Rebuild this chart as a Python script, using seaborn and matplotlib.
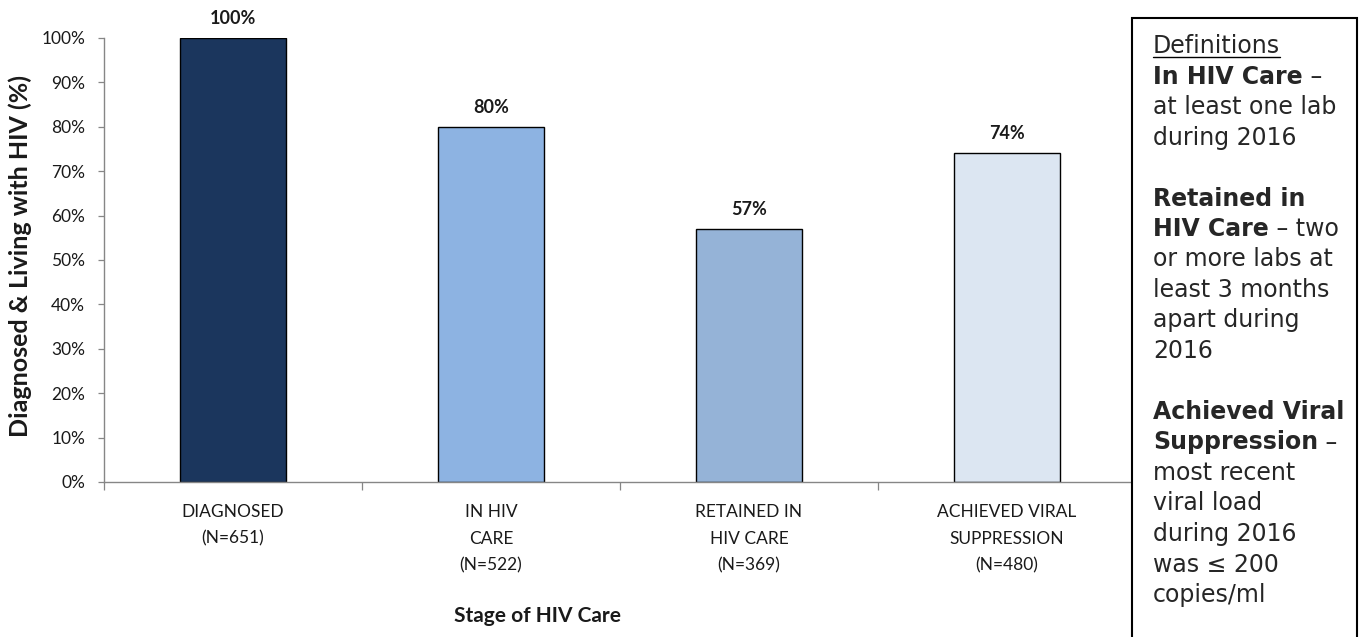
import matplotlib
matplotlib.use("Agg")
import matplotlib.pyplot as plt
import seaborn as sns
import pandas as pd
from matplotlib.patches import Rectangle
from matplotlib.lines import Line2D
from matplotlib.ticker import FuncFormatter

# ---- data -------------------------------------------------------------
stages = ["DIAGNOSED", "IN HIV CARE", "RETAINED IN HIV CARE", "ACHIEVED VIRAL SUPPRESSION"]
stage_label_lines = [["DIAGNOSED"], ["IN HIV", "CARE"], ["RETAINED IN", "HIV CARE"],
                     ["ACHIEVED VIRAL", "SUPPRESSION"]]
n_people = [651, 522, 369, 480]
pct_values = [100, 80, 57, 74]
y_ticks = list(range(0, 101, 10))

bar_colors = ["#1B365D", "#8DB3E2", "#95B3D7", "#DCE6F2"]

# definitions panel: (bold part, regular part) per line, None = blank line
definition_lines = [
    ("", "Definitions"),
    ("In HIV Care", " \u2013"),
    ("", "at least one lab"),
    ("", "during 2016"),
    None,
    ("Retained in", ""),
    ("HIV Care", " \u2013 two"),
    ("", "or more labs at"),
    ("", "least 3 months"),
    ("", "apart during"),
    ("", "2016"),
    None,
    ("Achieved Viral", ""),
    ("Suppression", " \u2013"),
    ("", "most recent"),
    ("", "viral load"),
    ("", "during 2016"),
    ("", "was \u2264 200"),
    ("", "copies/ml"),
]

# ---- style ------------------------------------------------------------
sns.set_style("ticks")
plt.rcParams["font.family"] = ["Lato", "DejaVu Sans"]

W, H = 1360, 637
fig = plt.figure(figsize=(W / 100, H / 100), dpi=100)
ax = fig.add_axes([104 / W, 1 - 482 / H, (1136 - 104) / W, (482 - 38) / H])

df = pd.DataFrame({"stage": stages, "pct": pct_values})
sns.barplot(data=df, x="stage", y="pct", hue="stage", palette=bar_colors,
            legend=False, width=0.41, edgecolor="black", linewidth=1.0,
            saturation=1, ax=ax)

ax.set_xlim(-0.5, 3.5)
ax.set_ylim(0, 100)

# value labels above bars
for cont in ax.containers:
    ax.bar_label(cont, fmt="%d%%", padding=8, fontsize=13, fontweight="bold",
                 color="#1a1a1a")

# axes styling
grey = "#868686"
for side in ("top", "right"):
    ax.spines[side].set_visible(False)
for side in ("left", "bottom"):
    ax.spines[side].set_color(grey)
    ax.spines[side].set_linewidth(1.0)

ax.set_yticks(y_ticks)
ax.yaxis.set_major_formatter(FuncFormatter(lambda v, p: f"{v:.0f}%"))
ax.tick_params(axis="y", length=4.5, width=0.9, color=grey, pad=9,
               labelsize=12.5, labelcolor="#1a1a1a")

xt_labels = ["\n".join(lines + [f"(N={n})"]) for lines, n in zip(stage_label_lines, n_people)]
ax.set_xticks(range(len(stages)))
ax.set_xticklabels(xt_labels, fontsize=12.5, linespacing=1.8, color="#1a1a1a")
ax.tick_params(axis="x", which="major", length=0, pad=16)
ax.set_xticks([i - 0.5 for i in range(len(stages) + 1)], minor=True)
ax.tick_params(axis="x", which="minor", length=5.5, width=0.9, color=grey)

ax.set_xlabel("Stage of HIV Care", fontsize=15, fontweight="bold", va="center",
              color="#1a1a1a")
ax.xaxis.set_label_coords((538 - 104) / (1136 - 104), (482 - 616) / (482 - 38))
ax.set_ylabel("Diagnosed & Living with HIV (%)", fontsize=18, fontweight="bold",
              va="center", color="#1a1a1a")
ax.yaxis.set_label_coords((20 - 104) / (1136 - 104), (482 - 256) / (482 - 38))

# ---- definitions panel ------------------------------------------------
box = Rectangle((1132 / W, -0.05), (1357 - 1132) / W, 1.05 - 18 / H,
                transform=fig.transFigure, facecolor="white", edgecolor="black",
                linewidth=1.5, zorder=10, clip_on=False)
fig.patches.append(box)

fig.canvas.draw()
renderer = fig.canvas.get_renderer()

x0 = 1153
base0 = 53
step = 30.5
box_fs = 17
for i, item in enumerate(definition_lines):
    if item is None:
        continue
    bold_part, reg_part = item
    y = 1 - (base0 + i * step) / H
    x = x0
    if bold_part:
        t = fig.text(x / W, y, bold_part, fontsize=box_fs, fontweight="bold",
                     family="DejaVu Sans", va="baseline", ha="left", zorder=11)
        x += t.get_window_extent(renderer).width
    if reg_part:
        t = fig.text(x / W, y, reg_part, fontsize=box_fs, family="DejaVu Sans",
                     va="baseline", ha="left", zorder=11)
        if reg_part == "Definitions":
            bb = t.get_window_extent(renderer)
            yl = y - 3.5 / H
            fig.lines.append(Line2D([bb.x0 / W, bb.x1 / W], [yl, yl],
                                    transform=fig.transFigure, color="black",
                                    linewidth=1.0, zorder=11))

fig.savefig("out.png", dpi=100)
